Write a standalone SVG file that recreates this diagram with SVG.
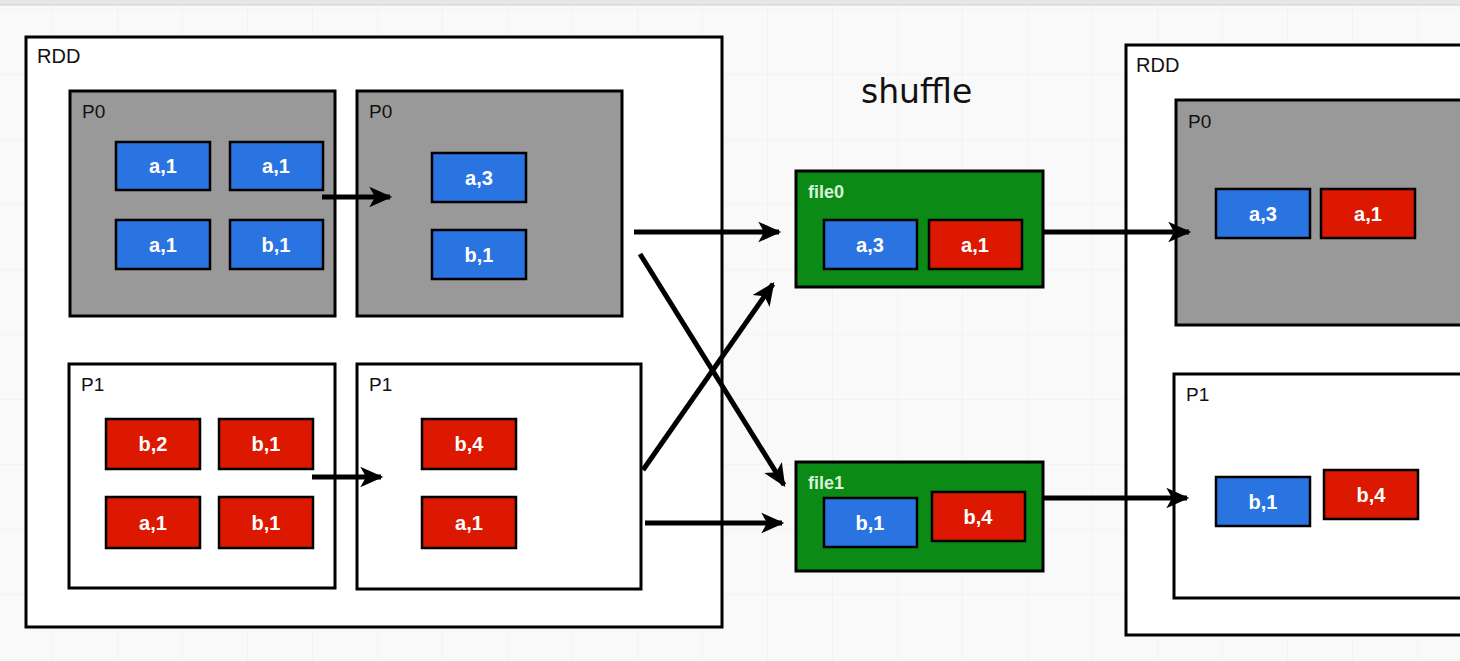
<svg xmlns="http://www.w3.org/2000/svg" width="1460" height="661" viewBox="0 0 1460 661">
<defs>
<pattern id="grid" width="65" height="65" patternUnits="userSpaceOnUse" x="-12" y="10">
<path d="M65 0V65M0 65H65" fill="none" stroke="#ececec" stroke-width="1"/>
</pattern>
<marker id="ah" viewBox="0 0 10 10" refX="9" refY="5" markerWidth="23" markerHeight="23" markerUnits="userSpaceOnUse" orient="auto" overflow="visible">
<path d="M0 0.5 L10 5 L0 9.5 L2.5 5 Z" fill="#000"/>
</marker>
<style>
.frame{fill:#fff;stroke:#000;stroke-width:3}
.gray{fill:#999;stroke:#000;stroke-width:3}
.part{fill:#fff;stroke:#000;stroke-width:3}
.green{fill:#0b8a16;stroke:#000;stroke-width:3}
.blue{fill:#2a74e2;stroke:#000;stroke-width:2.5}
.red{fill:#dd1800;stroke:#000;stroke-width:2.5}
.lbl{font-family:"Liberation Sans",Arial,sans-serif;font-size:19px;fill:#111}
.flbl{font-family:"Liberation Sans",Arial,sans-serif;font-size:18px;font-weight:bold;fill:#d8f4d8}
.val{font-family:"Liberation Sans",Arial,sans-serif;font-size:20px;font-weight:bold;fill:#fff;text-anchor:middle}
.title{font-family:"DejaVu Sans",Verdana,sans-serif;font-size:33px;fill:#111}
.conn{fill:none;stroke:#000;stroke-width:5;marker-end:url(#ah)}
</style>
</defs>
<rect width="1460" height="661" fill="#f9f9f9"/>
<rect width="1460" height="661" fill="url(#grid)"/>
<rect width="1460" height="5" fill="#e6e6e6"/>
<line x1="0" y1="5" x2="1460" y2="5" stroke="#d0d0d0" stroke-width="1"/>

<g id="rdd-left">
<rect class="frame" x="26" y="37" width="696" height="590"/>
<text class="lbl" x="37" y="63" style="font-size:20px">RDD</text>
</g>
<g id="p0-left-a">
<rect class="gray" x="70" y="91" width="265" height="225"/>
<text class="lbl" x="82" y="118">P0</text>
<rect class="blue" x="116" y="142" width="94" height="48"/><text class="val" x="163" y="173">a,1</text>
<rect class="blue" x="230" y="142" width="93" height="48"/><text class="val" x="276" y="173">a,1</text>
<rect class="blue" x="116" y="220" width="94" height="49"/><text class="val" x="163" y="252">a,1</text>
<rect class="blue" x="230" y="220" width="93" height="49"/><text class="val" x="276" y="252">b,1</text>
</g>
<g id="p0-left-b">
<rect class="gray" x="357" y="91" width="265" height="225"/>
<text class="lbl" x="369" y="118">P0</text>
<rect class="blue" x="432" y="153" width="94" height="49"/><text class="val" x="479" y="185">a,3</text>
<rect class="blue" x="432" y="230" width="94" height="49"/><text class="val" x="479" y="262">b,1</text>
</g>
<g id="p1-left-a">
<rect class="part" x="69" y="364" width="266" height="224"/>
<text class="lbl" x="81" y="391">P1</text>
<rect class="red" x="106" y="419" width="94" height="50"/><text class="val" x="153" y="451">b,2</text>
<rect class="red" x="219" y="419" width="94" height="50"/><text class="val" x="266" y="451">b,1</text>
<rect class="red" x="106" y="497" width="94" height="51"/><text class="val" x="153" y="530">a,1</text>
<rect class="red" x="219" y="497" width="94" height="51"/><text class="val" x="266" y="530">b,1</text>
</g>
<g id="p1-left-b">
<rect class="part" x="357" y="364" width="284" height="225"/>
<text class="lbl" x="369" y="391">P1</text>
<rect class="red" x="422" y="419" width="94" height="50"/><text class="val" x="469" y="451">b,4</text>
<rect class="red" x="422" y="497" width="94" height="51"/><text class="val" x="469" y="530">a,1</text>
</g>

<text class="title" x="861" y="103">shuffle</text>

<g id="file0">
<rect class="green" x="796" y="171" width="247" height="116"/>
<text class="flbl" x="808" y="198">file0</text>
<rect class="blue" x="824" y="220" width="93" height="49"/><text class="val" x="870" y="252">a,3</text>
<rect class="red" x="929" y="220" width="93" height="49"/><text class="val" x="975" y="252">a,1</text>
</g>
<g id="file1">
<rect class="green" x="796" y="462" width="247" height="109"/>
<text class="flbl" x="808" y="489">file1</text>
<rect class="blue" x="824" y="498" width="93" height="49"/><text class="val" x="870" y="530">b,1</text>
<rect class="red" x="932" y="492" width="93" height="49"/><text class="val" x="978" y="524">b,4</text>
</g>

<g id="rdd-right">
<rect class="frame" x="1126" y="45" width="344" height="590"/>
<text class="lbl" x="1136" y="72" style="font-size:20px">RDD</text>
</g>
<g id="p0-right">
<rect class="gray" x="1176" y="100" width="294" height="225"/>
<text class="lbl" x="1188" y="128">P0</text>
<rect class="blue" x="1216" y="189" width="94" height="49"/><text class="val" x="1263" y="221">a,3</text>
<rect class="red" x="1321" y="189" width="94" height="49"/><text class="val" x="1368" y="221">a,1</text>
</g>
<g id="p1-right">
<rect class="part" x="1174" y="374" width="296" height="224"/>
<text class="lbl" x="1186" y="401">P1</text>
<rect class="blue" x="1216" y="477" width="94" height="49"/><text class="val" x="1263" y="509">b,1</text>
<rect class="red" x="1324" y="470" width="94" height="49"/><text class="val" x="1371" y="502">b,4</text>
</g>

<g id="connectors">
<line class="conn" x1="322" y1="197" x2="390" y2="197"/>
<line class="conn" x1="312" y1="477" x2="381" y2="477"/>
<line class="conn" x1="634" y1="232" x2="779" y2="232"/>
<line class="conn" x1="640" y1="254" x2="784" y2="485"/>
<line class="conn" x1="643" y1="470" x2="773" y2="284"/>
<line class="conn" x1="645" y1="523" x2="782" y2="523"/>
<line class="conn" x1="1043" y1="232" x2="1189" y2="232"/>
<line class="conn" x1="1043" y1="498" x2="1187" y2="498"/>
</g>
</svg>
